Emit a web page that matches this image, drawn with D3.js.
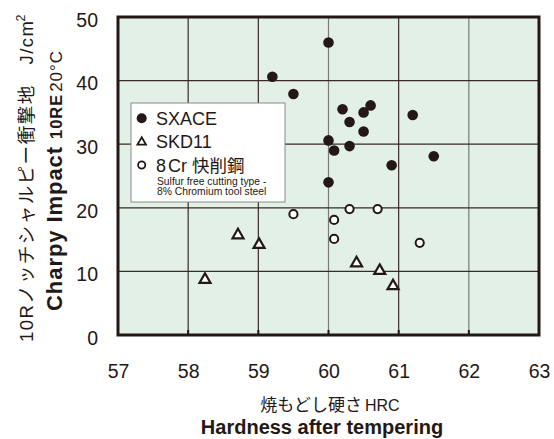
<!DOCTYPE html>
<html><head><meta charset="utf-8">
<script src="https://cdn.jsdelivr.net/npm/d3@7"></script>
<style>
html,body{margin:0;padding:0;background:#fff;}
svg{display:block;}
text{font-family:"Liberation Sans",Arial,"Noto Sans CJK JP",sans-serif;fill:#231815;}
.jp{font-family:"Liberation Sans","Noto Sans CJK JP",sans-serif;}
</style></head>
<body>
<script>
// ---- data ----
const xTicks = [57, 58, 59, 60, 61, 62, 63];
const yTicks = [0, 10, 20, 30, 40, 50];
const sxaceHRC = [60.0, 59.2, 59.5, 60.2, 60.6, 60.5, 61.2, 60.3, 60.5, 60.0, 60.3, 60.08, 61.5, 60.9, 60.0];
const sxaceCVN = [46.0, 40.6, 37.9, 35.5, 36.1, 35.0, 34.6, 33.5, 32.0, 30.6, 29.7, 29.0, 28.1, 26.7, 24.0];
const skd11HRC = [58.71, 59.01, 58.24, 60.4, 60.73, 60.92];
const skd11CVN = [15.7, 14.2, 8.7, 11.3, 10.1, 7.7];
const cr8HRC = [59.5, 60.3, 60.7, 60.08, 60.08, 61.3];
const cr8CVN = [19.0, 19.8, 19.8, 18.1, 15.1, 14.5];
const legendLabels = ["SXACE", "SKD11", "8Cr 快削鋼"];
const legendNote = ["Sulfur free cutting type -", "8% Chromium tool steel"];

const W = 554, H = 439;
const M = {left: 118, top: 17, right: 539, bottom: 335};
const ink = "#231815";

const svg = d3.select("body").append("svg").attr("width", W).attr("height", H);
const x = d3.scaleLinear().domain([57, 63]).range([M.left, M.right]);
const y = d3.scaleLinear().domain([0, 50]).range([M.bottom, M.top]);

// background
svg.append("rect").attr("x", M.left).attr("y", M.top)
  .attr("width", M.right - M.left).attr("height", M.bottom - M.top)
  .attr("fill", "#e3f0e7");

// grid
const grayX = new Set([60, 62]);
svg.append("g").selectAll("line").data(xTicks.slice(1, -1)).join("line")
  .attr("x1", d => x(d)).attr("x2", d => x(d))
  .attr("y1", M.top).attr("y2", M.bottom)
  .attr("stroke", d => grayX.has(d) ? "#7a7a76" : "#3a2a24").attr("stroke-width", 1.2);
svg.append("g").selectAll("line").data(yTicks.slice(1, -1)).join("line")
  .attr("x1", M.left).attr("x2", M.right)
  .attr("y1", d => y(d)).attr("y2", d => y(d))
  .attr("stroke", "#3a2a24").attr("stroke-width", 1.2);
// small inward ticks at bottom
svg.append("g").selectAll("line").data(xTicks.slice(1, -1)).join("line")
  .attr("x1", d => x(d)).attr("x2", d => x(d))
  .attr("y1", M.bottom - 5).attr("y2", M.bottom)
  .attr("stroke", ink).attr("stroke-width", 2);

// axes labels via d3 axes
const gx = svg.append("g").attr("transform", `translate(0,${M.bottom})`)
  .call(d3.axisBottom(x).tickValues(xTicks).tickSize(0).tickPadding(29).tickFormat(d3.format("d")));
gx.select(".domain").remove();
gx.selectAll("text").attr("font-size", 19.5).attr("fill", ink)
  .style("font-family", '"Liberation Sans",Arial,sans-serif');

const gy = svg.append("g").attr("transform", `translate(${M.left},0)`)
  .call(d3.axisLeft(y).tickValues(yTicks).tickSize(0).tickPadding(20).tickFormat(d3.format("d")));
gy.select(".domain").remove();
gy.selectAll("text").attr("font-size", 19.5).attr("fill", ink).attr("dy", "0.48em")
  .style("font-family", '"Liberation Sans",Arial,sans-serif');

// frame
svg.append("rect").attr("x", M.left).attr("y", M.top)
  .attr("width", M.right - M.left).attr("height", M.bottom - M.top)
  .attr("fill", "none").attr("stroke", ink).attr("stroke-width", 3);

// data marks
const tri = (cx, cy, s) => {
  const h = s * Math.sqrt(3) / 2;
  return `M${cx},${cy - h * 2 / 3}L${cx + s / 2},${cy + h / 3}L${cx - s / 2},${cy + h / 3}Z`;
};
svg.append("g").selectAll("circle").data(d3.range(sxaceHRC.length)).join("circle")
  .attr("cx", i => x(sxaceHRC[i])).attr("cy", i => y(sxaceCVN[i]))
  .attr("r", 5.3).attr("fill", ink);
svg.append("g").selectAll("circle").data(d3.range(cr8HRC.length)).join("circle")
  .attr("cx", i => x(cr8HRC[i])).attr("cy", i => y(cr8CVN[i]))
  .attr("r", 4.1).attr("fill", "#fff").attr("stroke", ink).attr("stroke-width", 2);
svg.append("g").selectAll("path").data(d3.range(skd11HRC.length)).join("path")
  .attr("d", i => tri(x(skd11HRC[i]), y(skd11CVN[i]), 11))
  .attr("fill", "#fff").attr("stroke", ink).attr("stroke-width", 2.2).attr("stroke-linejoin", "miter");

// legend
const lg = svg.append("g");
lg.append("rect").attr("x", 131).attr("y", 103).attr("width", 154).attr("height", 99)
  .attr("fill", "#fff").attr("stroke", "#8a8a8a").attr("stroke-width", 1);
const rowY = [118.3, 141.7, 165];
lg.append("circle").attr("cx", 141.7).attr("cy", rowY[0]).attr("r", 5).attr("fill", ink);
lg.append("path").attr("d", tri(141.7, rowY[1] + 0.5, 8.5))
  .attr("fill", "#fff").attr("stroke", ink).attr("stroke-width", 1.8);
lg.append("circle").attr("cx", 141.7).attr("cy", rowY[2]).attr("r", 3.6)
  .attr("fill", "#fff").attr("stroke", ink).attr("stroke-width", 1.8);
lg.append("text").attr("x", 156).attr("y", 125).attr("font-size", 18).text(legendLabels[0]);
lg.append("text").attr("x", 156).attr("y", 148).attr("font-size", 18).text(legendLabels[1]);
const t3 = lg.append("text").attr("x", 156).attr("y", 171.5).attr("font-size", 18).attr("class", "jp");
t3.append("tspan").text("8");
t3.append("tspan").attr("dx", 2).text("Cr ");
t3.append("tspan").style("font-family", '"Noto Sans CJK JP",sans-serif').attr("font-size", 17.5).text("快削鋼");
lg.append("text").attr("x", 157).attr("y", 184.5).attr("font-size", 10.3).text(legendNote[0]);
lg.append("text").attr("x", 157).attr("y", 195).attr("font-size", 10.3).text(legendNote[1]);

// x titles
const xt = svg.append("text").attr("x", 330).attr("y", 410.5).attr("text-anchor", "middle").attr("font-size", 17);
xt.append("tspan").style("font-family", '"Noto Sans CJK JP",sans-serif').text("焼もどし硬さ");
xt.append("tspan").attr("dx", 3).attr("font-size", 16).style("font-family", '"Liberation Sans",Arial,sans-serif').text("HRC");
svg.append("text").attr("x", 322).attr("y", 434).attr("text-anchor", "middle")
  .attr("font-size", 20).attr("font-weight", "bold").text("Hardness after tempering");

// y titles
const yt1 = svg.append("text").attr("transform", "translate(33,181.5) rotate(-90)")
  .attr("text-anchor", "middle").attr("font-size", 18.5)
  .attr("textLength", 321).attr("lengthAdjust", "spacing");
yt1.append("tspan").style("font-family", '"Liberation Sans",Arial,sans-serif').text("10R");
yt1.append("tspan").style("font-family", '"Noto Sans CJK JP",sans-serif').text("ノッチシャルピー衝撃地　");
yt1.append("tspan").style("font-family", '"Liberation Sans",Arial,sans-serif').text("J/cm");
svg.append("text").attr("transform", "translate(25,21.5) rotate(-90)")
  .attr("font-size", 12.5).text("2");

const yt2 = svg.append("text").attr("transform", "translate(62,181) rotate(-90)")
  .attr("text-anchor", "middle").attr("font-weight", "bold")
  .attr("textLength", 260).attr("lengthAdjust", "spacing");
yt2.append("tspan").attr("font-size", 22).text("Charpy Impact ");
yt2.append("tspan").attr("font-size", 16.5).text("10RE");
yt2.append("tspan").attr("font-size", 17).attr("font-weight", "normal").attr("dx", 2).text("20°C");
</script>
</body></html>
